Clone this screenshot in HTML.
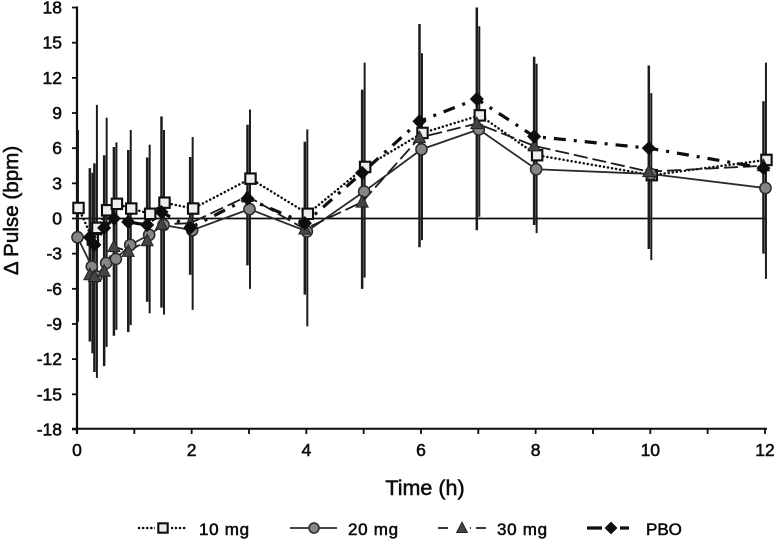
<!DOCTYPE html>
<html lang="en">
<head>
<meta charset="utf-8">
<title>Change in pulse over time</title>
<style>
html,body{margin:0;padding:0;background:#fff;}
svg{display:block;font-family:"Liberation Sans",Arial,sans-serif;}
text{fill:#0c0c0c;stroke:#0c0c0c;stroke-width:.55px;}
</style>
</head>
<body>
<svg id="chart" width="774" height="539" viewBox="0 0 774 539">
<defs><filter id="soft" x="-5%" y="-5%" width="110%" height="110%"><feGaussianBlur stdDeviation="0.35"/></filter></defs>
<g id="plot" filter="url(#soft)"></g>
<text x="18" y="210.5" transform="rotate(-90 18 210.5)" text-anchor="middle" font-size="20.6">Δ Pulse (bpm)</text>
<text x="425" y="495" text-anchor="middle" font-size="21.5">Time (h)</text>
<text x="199" y="535" font-size="17" letter-spacing="0.7">10 mg</text>
<text x="348" y="535" font-size="17" letter-spacing="0.7">20 mg</text>
<text x="497" y="535" font-size="17" letter-spacing="0.7">30 mg</text>
<text x="646" y="535" font-size="17">PBO</text>
</svg>
<script>
const times = [0, 0.25, 0.33, 0.5, 0.67, 0.92, 1.25, 1.5, 2, 3, 4, 5, 6, 7, 8, 10, 12];
const yTicks = [18, 15, 12, 9, 6, 3, 0, -3, -6, -9, -12, -15, -18];
const xTicks = [0, 1, 2, 3, 4, 5, 6, 7, 8, 9, 10, 11, 12];
const xTickLabels = [0, 2, 4, 6, 8, 10, 12];
const values10 = [0.9, -1.8, -0.8, 0.7, 1.25, 0.85, 0.4, 1.35, 0.85, 3.4, 0.4, 4.4, 7.3, 8.8, 5.4, 3.7, 5.0];
const values20 = [-1.6, -4.1, -4.95, -3.8, -3.45, -2.25, -1.4, -0.55, -1.0, 0.8, -1.1, 2.3, 5.9, 7.6, 4.2, 3.8, 2.6];
const values30 = [null, -4.8, -4.95, -4.5, -2.4, -2.8, -1.9, -0.5, -0.4, 1.9, -0.9, 1.4, 6.9, 8.1, 6.2, 4.0, 4.5];
const valuesPbo = [null, -1.6, -2.25, -0.8, 0, -0.3, -0.55, 0.55, -0.8, 1.7, -0.4, 3.9, 8.3, 10.2, 7.0, 6.0, 4.3];
const errHighRight = [7.55, 3.9, 9.7, 8.6, 6.5, 7.55, 6.3, 7.55, 6.95, 9.3, 7.6, 13.3, 14.1, 16.4, 13.2, 10.7, 13.3];
const errLowRight = [-8.8, -11.5, -13.6, -10.95, -9.5, -9.1, -8.1, -8.2, -7.8, -6.0, -9.2, -5.05, -1.85, 0.15, -1.25, -3.55, -5.15];
const errHighLeft = [null, 4.3, 4.7, 5.4, 6.1, 5.85, 5.2, 8.7, 5.25, 8.0, 6.55, 11.0, 16.6, 18.0, 13.8, 13.05, 10.0];
const errLowLeft = [null, -10.5, -13.1, -12.6, -10.0, -9.7, -7.1, -7.6, -4.8, -4.0, -6.5, -6.0, -2.45, -1.0, -0.55, -2.6, -3.0];

const NS = 'http://www.w3.org/2000/svg';
const plot = document.getElementById('plot');
const svg = document.getElementById('chart');
const xScale = t => 77 + t * 57.33;
const yScale = v => 218.5 - v * 11.72;

function add(parent, tag, attrs) {
  const el = document.createElementNS(NS, tag);
  for (const k in attrs) el.setAttribute(k, attrs[k]);
  parent.appendChild(el);
  return el;
}

function drawMarker(parent, kind, cx, cy, scale) {
  const s = scale || 1;
  let el;
  if (kind === 'square') {
    el = add(parent, 'rect', {x: cx - 5.2 * s, y: cy - 5.2 * s, width: 10.4 * s, height: 10.4 * s, fill: '#eeeeee', stroke: '#111', 'stroke-width': 2.1});
  } else if (kind === 'circle') {
    el = add(parent, 'circle', {cx: cx, cy: cy, r: 5.6 * s, fill: '#858585', stroke: '#2a2a2a', 'stroke-width': 1.5});
  } else if (kind === 'triangle') {
    el = add(parent, 'polygon', {points: [cx, cy - 6.5 * s, cx + 6 * s, cy + 5 * s, cx - 6 * s, cy + 5 * s].join(','), fill: '#454545', stroke: '#222', 'stroke-width': 1});
  } else {
    el = add(parent, 'polygon', {points: [cx, cy - 6.5 * s, cx + 6.5 * s, cy, cx, cy + 6.5 * s, cx - 6.5 * s, cy].join(','), fill: '#0a0a0a', stroke: '#0a0a0a', 'stroke-width': 0.8});
  }
  return el;
}

function drawErrorBars(high, low, offset, width, name) {
  times.forEach((t, i) => {
    if (high[i] === null) return;
    const bar = add(plot, 'line', {x1: xScale(t) + offset, x2: xScale(t) + offset, y1: yScale(high[i]), y2: yScale(low[i]), stroke: '#1c1c1c', 'stroke-width': width});
    
    
  });
}

function drawSeries(values, offset, lineStyle, name) {
  const pts = [];
  times.forEach((t, i) => {
    if (values[i] !== null) pts.push([xScale(t) + offset, yScale(values[i])]);
  });
  const line = add(plot, 'polyline', Object.assign({points: pts.map(p => p.join(',')).join(' '), fill: 'none'}, lineStyle));
  
  
  return pts;
}

function drawPoints(pts, kind, name) {
  pts.forEach(p => {
    const m = drawMarker(plot, kind, p[0], p[1]);
    
    
  });
}

// axes
const yAxis = add(plot, 'line', {x1: 77, x2: 77, y1: 6.5, y2: 434, stroke: '#0c0c0c', 'stroke-width': 2.2});


const xAxis = add(plot, 'line', {x1: 72, x2: 767, y1: 428.7, y2: 428.7, stroke: '#0c0c0c', 'stroke-width': 2});


const zeroLine = add(plot, 'line', {x1: 77, x2: 766, y1: 218.5, y2: 218.5, stroke: '#0c0c0c', 'stroke-width': 1.8});



yTicks.forEach(v => {
  const tick = add(plot, 'line', {x1: 72, x2: 77, y1: yScale(v), y2: yScale(v), stroke: '#0c0c0c', 'stroke-width': 1.8});
  
  
  const label = add(svg, 'text', {x: 62, y: yScale(v) + 6, 'text-anchor': 'end', 'font-size': 17.5});
  label.textContent = v;
  
  
});

xTicks.forEach(t => {
  const tick = add(plot, 'line', {x1: xScale(t), x2: xScale(t), y1: 428.7, y2: 434, stroke: '#0c0c0c', 'stroke-width': 1.8});
  
  
});

xTickLabels.forEach(t => {
  const label = add(svg, 'text', {x: xScale(t), y: 456, 'text-anchor': 'middle', 'font-size': 17.5});
  label.textContent = t;
  
  
});

// error bars
drawErrorBars(errHighLeft, errLowLeft, -1.5, 2.5, 'error-bar-left');
drawErrorBars(errHighRight, errLowRight, 1, 2, 'error-bar-right');

// series
const style10 = {stroke: '#111', 'stroke-width': 2.5, 'stroke-dasharray': '0.1 4', 'stroke-linecap': 'round'};
const style20 = {stroke: '#2c2c2c', 'stroke-width': 1.8};
const style30 = {stroke: '#1c1c1c', 'stroke-width': 1.8, 'stroke-dasharray': '14 5'};
const stylePbo = {stroke: '#0a0a0a', 'stroke-width': 3.2, 'stroke-dasharray': '12 8 3 8'};

const pts10 = drawSeries(values10, 1.5, style10, 'series-10mg');
const pts20 = drawSeries(values20, 0.5, style20, 'series-20mg');
const pts30 = drawSeries(values30, -1.5, style30, 'series-30mg');
const ptsPbo = drawSeries(valuesPbo, -1.5, stylePbo, 'series-pbo');
drawPoints(pts10, 'square', 'series-10mg');
drawPoints(pts20, 'circle', 'series-20mg');
drawPoints(pts30, 'triangle', 'series-30mg');
drawPoints(ptsPbo, 'diamond', 'series-pbo');

// legend
function legendEntry(x1, x2, cx, kind, lineStyle, gapWidth, name) {
  const line = add(plot, 'line', Object.assign({x1: x1, x2: x2, y1: 528, y2: 528}, lineStyle));
  
  
  if (gapWidth > 0) {
    const gap = add(plot, 'rect', {x: cx - gapWidth / 2, y: 520, width: gapWidth, height: 16, fill: '#fff'});
    
    
  }
  const m = drawMarker(plot, kind, cx, 528, 0.9);
  
  
}
legendEntry(139, 187, 163, 'square', style10, 16, 'legend-10mg');
legendEntry(290, 337, 314, 'circle', style20, 0, 'legend-20mg');
legendEntry(438, 487, 462, 'triangle', {stroke: '#1c1c1c', 'stroke-width': 1.8, 'stroke-dasharray': '10 6 10 5 2 5'}, 16, 'legend-30mg');
legendEntry(587, 629, 611, 'diamond', {stroke: '#0a0a0a', 'stroke-width': 3.2}, 18, 'legend-pbo');
</script>
</body>
</html>
